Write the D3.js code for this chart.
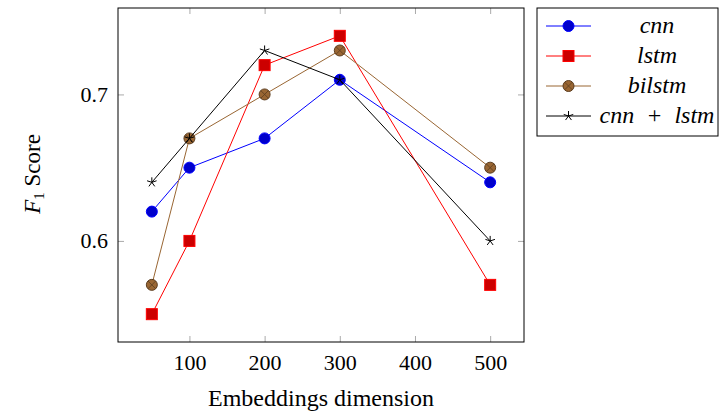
<!DOCTYPE html>
<meta charset="utf-8">
<style>
    body { margin: 0; background: #fff; }
    text { font-family: "Liberation Serif", "Times New Roman", serif; }
    .tick line { stroke: #aaa; }
</style>
<svg width="719" height="413"></svg>
<script src="https://cdn.jsdelivr.net/npm/d3@7"></script>
<script>

    // values
    var dims = [50, 100, 200, 300, 500];
    var cnn = [0.62, 0.65, 0.67, 0.71, 0.64];
    var lstm = [0.55, 0.60, 0.72, 0.74, 0.57];
    var bilstm = [0.57, 0.67, 0.70, 0.73, 0.65];
    var cnnLstm = [0.64, 0.67, 0.73, 0.71, 0.60];
    var xTicks = [100, 200, 300, 400, 500];
    var yTicks = [0.6, 0.7];

    var series = [
        {name: "cnn", values: cnn, line: "#0000ff", fill: "#0000cc", mark: "circle"},
        {name: "lstm", values: lstm, line: "#ff0000", fill: "#cc0000", mark: "square"},
        {name: "bilstm", values: bilstm, line: "#996633", fill: "#996633", mark: "otimes"},
        {name: "cnn\u2002+\u2002lstm", values: cnnLstm, line: "#000000", fill: "#000000", mark: "star"}
    ];

    var svg = d3.select("svg");
    svg.append("rect").attr("width", "100%").attr("height", "100%").attr("fill", "#fff");

    var pLeft = 118, pRight = 524, pTop = 8, pBottom = 342;

    var x = d3.scaleLinear().domain([5, 545]).range([pLeft, pRight]);
    var y = d3.scaleLinear().domain([0.531, 0.759]).range([pBottom, pTop]);

    // ticks on all four sides, pointing inward
    svg.append("g").attr("transform", "translate(0," + pBottom + ")")
            .call(d3.axisBottom(x).tickValues(xTicks).tickSize(-6).tickPadding(12));
    svg.append("g").attr("transform", "translate(0," + pTop + ")")
            .call(d3.axisTop(x).tickValues(xTicks).tickSize(-6).tickFormat(""));
    svg.append("g").attr("transform", "translate(" + pLeft + ",0)")
            .call(d3.axisLeft(y).tickValues(yTicks).tickSize(-6).tickPadding(10).tickFormat(d3.format(".1f")));
    svg.append("g").attr("transform", "translate(" + pRight + ",0)")
            .call(d3.axisRight(y).tickValues(yTicks).tickSize(-6).tickFormat(""));

    svg.selectAll(".domain").remove();
    svg.selectAll("g").attr("font-family", null);
    svg.selectAll(".tick text").attr("font-size", 22).attr("fill", "#000");

    svg.append("rect").attr("x", pLeft).attr("y", pTop)
            .attr("width", pRight - pLeft).attr("height", pBottom - pTop)
            .attr("fill", "none").attr("stroke", "#000").attr("stroke-width", 1);

    // axis titles
    svg.append("text").attr("x", (pLeft + pRight) / 2).attr("y", 406)
            .attr("text-anchor", "middle").attr("font-size", 24)
            .text("Embeddings dimension");

    var yl = svg.append("text").attr("transform", "translate(40,174) rotate(-90)")
            .attr("text-anchor", "middle").attr("font-size", 23);
    yl.append("tspan").attr("font-style", "italic").text("F");
    yl.append("tspan").attr("font-size", 15).attr("dy", 4).text("1");
    yl.append("tspan").attr("dy", -4).text(" Score");

    var line = d3.line()
            .x(function (d, i) { return x(dims[i]); })
            .y(function (d) { return y(d); });

    function drawMark(g, s, cx, cy) {
        if (s.mark === "circle") {
            g.append("circle").attr("cx", cx).attr("cy", cy).attr("r", 5.5)
                    .attr("fill", s.fill).attr("stroke", s.line);
        } else if (s.mark === "square") {
            g.append("rect").attr("x", cx - 5.5).attr("y", cy - 5.5)
                    .attr("width", 11).attr("height", 11)
                    .attr("fill", s.fill).attr("stroke", s.line);
        } else if (s.mark === "otimes") {
            g.append("circle").attr("cx", cx).attr("cy", cy).attr("r", 5.5)
                    .attr("fill", s.fill).attr("stroke", "#5c3d1f");
            var k = 5.5 * Math.SQRT1_2;
            g.append("path")
                    .attr("d", "M" + (cx - k) + "," + (cy - k) + "L" + (cx + k) + "," + (cy + k) +
                            "M" + (cx - k) + "," + (cy + k) + "L" + (cx + k) + "," + (cy - k))
                    .attr("stroke", "#5c3d1f").attr("stroke-width", 0.8);
        } else {
            var d = "";
            for (var j = 0; j < 5; j++) {
                var a = -Math.PI / 2 + j * 2 * Math.PI / 5;
                d += "M" + cx + "," + cy + "L" + (cx + 5 * Math.cos(a)) + "," + (cy + 5 * Math.sin(a));
            }
            g.append("path").attr("d", d).attr("stroke", "#000").attr("stroke-width", 1).attr("fill", "none");
        }
    }

    series.forEach(function (s) {
        var g = svg.append("g");
        g.append("path").datum(s.values).attr("d", line)
                .attr("fill", "none").attr("stroke", s.line).attr("stroke-width", 1);
        s.values.forEach(function (v, i) {
            drawMark(g, s, x(dims[i]), y(v));
        });
    });

    // legend
    var lx = 537, ly = 8, lw = 181, lh = 128;
    svg.append("rect").attr("x", lx).attr("y", ly).attr("width", lw).attr("height", lh)
            .attr("fill", "#fff").attr("stroke", "#000");

    series.forEach(function (s, i) {
        var cy = ly + 18 + i * 30;
        var g = svg.append("g");
        g.append("line").attr("x1", lx + 9).attr("x2", lx + 54).attr("y1", cy).attr("y2", cy)
                .attr("stroke", s.line);
        drawMark(g, s, lx + 31.5, cy);
        g.append("text").attr("x", lx + 120).attr("y", cy + 7)
                .attr("text-anchor", "middle").attr("font-size", 24).attr("font-style", "italic")
                .text(s.name);
    });

</script>
